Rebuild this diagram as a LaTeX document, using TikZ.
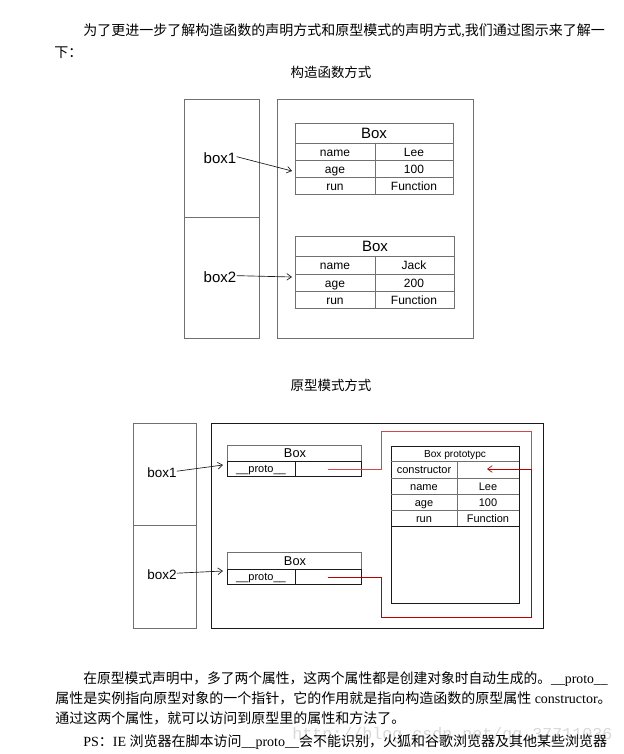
\documentclass[tikz,border=0pt]{standalone}
\usepackage{fontspec}
\setmainfont{Liberation Serif}
\newfontfamily\cjk{Noto Sans CJK SC}
\newfontfamily\arial{Liberation Sans}
\newfontfamily\wmfont{Liberation Mono}
\usetikzlibrary{arrows.meta}
\definecolor{gline}{HTML}{707070}
\definecolor{bline}{HTML}{1A1A1A}
\definecolor{redA}{HTML}{D04848}
\definecolor{redB}{HTML}{B80000}
\tikzset{
  gl/.style={draw=gline, line width=0.65pt},
  bl/.style={draw=bline, line width=0.65pt},
  para/.style={anchor=base west, inner sep=0pt, font=\fontsize{10.5}{12}\selectfont},
  ttl/.style={anchor=base, inner sep=0pt, font=\cjk\fontsize{10.1}{12}\selectfont},
  lblA/.style={anchor=base, inner sep=0pt, font=\arial\fontsize{11.25}{13}\selectfont},
  hdrA/.style={anchor=base, inner sep=0pt, font=\arial\fontsize{11.25}{13}\selectfont},
  cellA/.style={anchor=base, inner sep=0pt, font=\arial\fontsize{9}{11}\selectfont},
  lblB/.style={anchor=base, inner sep=0pt, font=\arial\fontsize{10.1}{12}\selectfont},
  hdrB/.style={anchor=base, inner sep=0pt, font=\arial\fontsize{9.6}{11}\selectfont},
  cellB/.style={anchor=base, inner sep=0pt, font=\arial\fontsize{8.25}{10}\selectfont},
  ptr/.style={-{Straight Barb[length=3.5pt,width=5pt]}, draw=bline, line width=0.5pt},
}
\begin{document}
\begin{tikzpicture}[x=0.75pt,y=-0.75pt]
\useasboundingbox[fill=white] (0,0) rectangle (624,754);

% ---------- top paragraph ----------
\node[para] (p1) at (83,35) {{\cjk 为了更进一步了解构造函数的声明方式和原型模式的声明方式},{\cjk 我们通过图示来了解一}};
\node[para] (p2) at (54,57) {{\cjk 下：}};
\node[ttl] (t1) at (331,77) {构造函数方式};

% ---------- diagram 1 ----------
\draw[gl] (184,99) rectangle (259,338);
\draw[gl] (184,217) -- (259,217);
\draw[gl] (277,99) rectangle (473,338);

% table 1
\draw[gl] (295,123) rectangle (453,194);
\draw[gl] (295,143) -- (453,143);
\draw[gl] (295,160) -- (453,160);
\draw[gl] (295,177) -- (453,177);
\draw[gl] (375,143) -- (375,194);
\node[hdrA] (a1h) at (374,138.5) {Box};
\node[cellA] (a1n) at (335,156.5) {name};
\node[cellA] (a1nv) at (414,156.5) {Lee};
\node[cellA] (a1a) at (335,173.5) {age};
\node[cellA] (a1av) at (414,173.5) {100};
\node[cellA] (a1r) at (335,190) {run};
\node[cellA] (a1rv) at (414,190) {Function};
\coordinate (a1in) at (292,171);

% table 2
\draw[gl] (295,236) rectangle (454,308);
\draw[gl] (295,256) -- (454,256);
\draw[gl] (295,274) -- (454,274);
\draw[gl] (295,291) -- (454,291);
\draw[gl] (375,256) -- (375,308);
\node[hdrA] (a2h) at (375,251.5) {Box};
\node[cellA] (a2n) at (335,269.5) {name};
\node[cellA] (a2nv) at (414,269.5) {Jack};
\node[cellA] (a2a) at (335,287) {age};
\node[cellA] (a2av) at (414,287) {200};
\node[cellA] (a2r) at (335,304) {run};
\node[cellA] (a2rv) at (414,304) {Function};
\coordinate (a2in) at (292,277);

\node[lblA] (box1a) at (220,163.5) {box1};
\node[lblA] (box2a) at (220,282.5) {box2};
\draw[ptr] (box1a.east) ++(0,-1.5) -- (a1in);
\draw[ptr] (box2a.east) ++(0,-1.5) -- (a2in);

% ---------- diagram 2 ----------
\node[ttl] (t2) at (331,390) {原型模式方式};

\draw[gl] (133,423) rectangle (196,628);
\draw[gl] (133,525) -- (196,525);
\draw[bl] (211,423) rectangle (543,628);

% Box A
\draw[gl] (227,461) -- (227,445) -- (361,445) -- (361,461);
\draw[bl] (227,461) rectangle (361,476);
\draw[bl] (295,461) -- (295,476);
\node[hdrB] (b1h) at (295,457.5) {Box};
\node[cellB] (b1p) at (261,472) {\_\_proto\_\_};
\coordinate (b1v) at (328,469);
\coordinate (b1in) at (223,465);

% Box B
\draw[gl] (227,569) -- (227,552) -- (361,552) -- (361,569);
\draw[bl] (227,569) rectangle (361,584);
\draw[bl] (295,569) -- (295,584);
\node[hdrB] (b2h) at (295,565) {Box};
\node[cellB] (b2p) at (261,580) {\_\_proto\_\_};
\coordinate (b2v) at (328,577);
\coordinate (b2in) at (223,571);

% prototype table
\draw[bl] (391,446) rectangle (519,603);
\draw[gl] (391,461) -- (519,461);
\draw[gl] (391,478) -- (519,478);
\draw[gl] (391,494) -- (519,494);
\draw[gl] (391,510) -- (519,510);
\draw[bl] (391,526) -- (519,526);
\draw[gl] (457,461) -- (457,526);
\node[anchor=base, inner sep=0pt, font=\arial\fontsize{7.6}{9}\selectfont] (ph) at (455,457) {Box prototypc};
\node[cellB] (pc) at (424,473.5) {constructor};
\node[cellB] (pn) at (424,490) {name};
\node[cellB] (pnv) at (488,490) {Lee};
\node[cellB] (pa) at (424,506) {age};
\node[cellB] (pav) at (488,506) {100};
\node[cellB] (pr) at (424,522) {run};
\node[cellB] (prv) at (488,522) {Function};
\coordinate (pcv) at (487,469);
\coordinate (rj) at (531,469);

% red pointers
\draw[draw=redA, line width=0.75pt] (b1v) -- (381,469) -- (381,431) -- (531,431) -- (rj);
\draw[draw=redB, line width=0.75pt] (b2v) -- (381,577) -- (381,617) -- (531,617) -- (rj);
\draw[draw=redB, line width=0.5pt, -{Straight Barb[length=3.5pt,width=5pt]}] (rj) -- (pcv);

\node[lblB] (box1b) at (162,477) {box1};
\node[lblB] (box2b) at (162,579) {box2};
\draw[ptr] (box1b.east) ++(0,-1) -- (b1in);
\draw[ptr] (box2b.east) ++(0,-1) -- (b2in);

% ---------- bottom paragraph ----------
\node[anchor=base west, inner sep=0pt, text=gray!30, font=\wmfont\fontsize{12.5}{14}\selectfont] (wm) at (292,739) {http://blog.csdn.net/qq\_37711036};
\node[para] (q1) at (83,683) {\scalebox{0.983}[1]{{\cjk 在原型模式声明中，多了两个属性，这两个属性都是创建对象时自动生成的。}\_\_proto\_\_}};
\node[para] (q2) at (55,703) {{\cjk 属性是实例指向原型对象的一个指针，它的作用就是指向构造函数的原型属性} constructor{\cjk 。}};
\node[para] (q3) at (55,723) {{\cjk 通过这两个属性，就可以访问到原型里的属性和方法了。}};
\node[para] (q4) at (83,746) {PS{\cjk ：}IE {\cjk 浏览器在脚本访问}\_\_proto\_\_{\cjk 会不能识别，火狐和谷歌浏览器及其他某些浏览器}};
\end{tikzpicture}
\end{document}
